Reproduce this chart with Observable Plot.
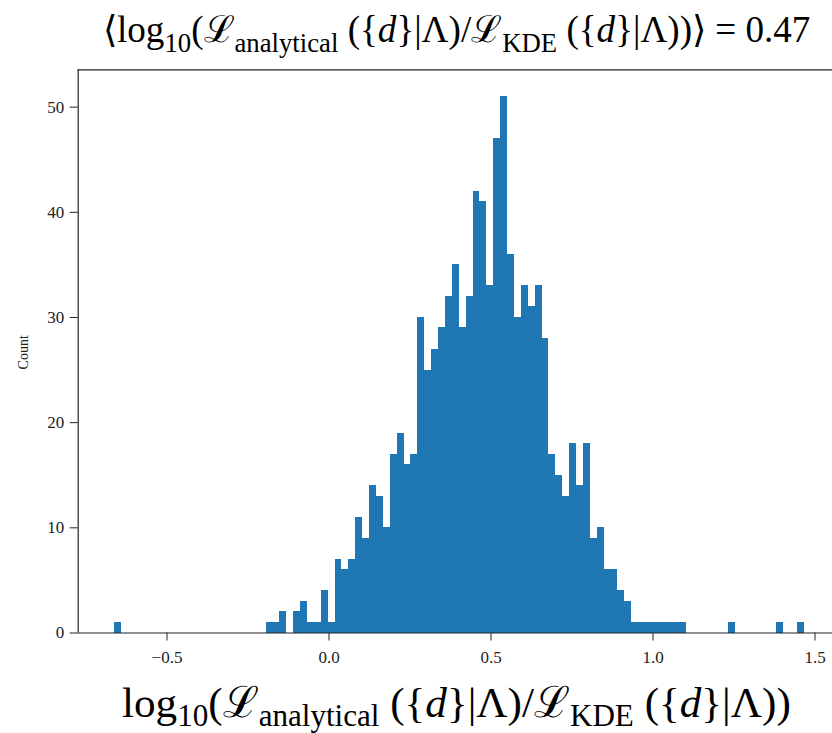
<!DOCTYPE html>
<html>
<head>
<meta charset="utf-8">
<script src="https://cdn.jsdelivr.net/npm/d3@7"></script>
<script src="https://cdn.jsdelivr.net/npm/@observablehq/plot@0.6"></script>
<style>
  html, body { margin: 0; padding: 0; background: #fff; }
  #chart { width: 832px; height: 733px; overflow: hidden; }
</style>
</head>
<body>
<div id="chart"></div>
<script>
// ---- data (100 equal-width bins) ----
const binStart = -0.663;   // left edge of the first bin
const binWidth = 0.0213;   // width of each bin
const counts = [
  1, 0, 0, 0, 0, 0, 0, 0, 0, 0,
  0, 0, 0, 0, 0, 0, 0, 0, 0, 0,
  0, 0, 1, 1, 2, 0, 2, 3, 1, 1,
  4, 1, 7, 6, 7, 11, 9, 14, 13, 10,
  17, 19, 16, 17, 30, 25, 27, 29, 32, 35,
  29, 32, 42, 41, 33, 47, 51, 36, 30, 33,
  31, 33, 28, 17, 15, 13, 18, 14, 18, 9,
  10, 6, 6, 4, 3, 1, 1, 1, 1, 1,
  1, 1, 1, 0, 0, 0, 0, 0, 0, 1,
  0, 0, 0, 0, 0, 0, 1, 0, 0, 1
];
const xTicks = [-0.5, 0.0, 0.5, 1.0, 1.5];
const yTicks = [0, 10, 20, 30, 40, 50];
const xDomain = [-0.7741, 1.554];
const yDomain = [0, 53.55];
const yLabel = "Count";
const titleSegs = [
  {t: "\u27E8log"}, {t: "10", sub: true}, {t: "("}, {t: "\u2112"}, {t: "analytical", sub: true},
  {t: " ({"}, {t: "d", it: true}, {t: "}|\u039B)/"}, {t: "\u2112"}, {t: "KDE", sub: true},
  {t: " ({"}, {t: "d", it: true}, {t: "}|\u039B))\u27E9 = 0.47"}
];
const xLabelSegs = [
  {t: "log"}, {t: "10", sub: true}, {t: "("}, {t: "\u2112"}, {t: "analytical", sub: true},
  {t: " ({"}, {t: "d", it: true}, {t: "}|\u039B)/"}, {t: "\u2112"}, {t: "KDE", sub: true},
  {t: " ({"}, {t: "d", it: true}, {t: "}|\u039B))"}
];

const bins = counts.map((c, i) => ({x1: binStart + i * binWidth, x2: binStart + (i + 1) * binWidth, y: c}));
const fmt = d => d.toFixed(1).replace("-", "\u2212");

const chart = Plot.plot({
  width: 832,
  height: 733,
  marginLeft: 77.7,
  marginRight: 0,
  marginTop: 69.3,
  marginBottom: 100.5,
  style: {fontFamily: "'Liberation Serif', serif", fontSize: "17px", color: "#222", background: "#fff"},
  x: {domain: xDomain, ticks: xTicks, tickFormat: fmt, tickSize: 8, tickPadding: 10, label: null},
  y: {domain: yDomain, ticks: yTicks, tickSize: 8, tickPadding: 6, label: null},
  marks: [
    Plot.rectY(bins.filter(d => d.y > 0), {x1: "x1", x2: "x2", y: "y", fill: "#1f77b4", inset: 0, shapeRendering: "crispEdges"}),
    Plot.ruleY([yDomain[0]], {stroke: "#222", strokeWidth: 1.2}),
    Plot.ruleY([yDomain[1]], {stroke: "#222", strokeWidth: 1.2}),
    Plot.ruleX([xDomain[0]], {stroke: "#222", strokeWidth: 1.2}),
    Plot.text([yLabel], {frameAnchor: "left", rotate: -90, dx: -55, dy: 18, fontSize: 14, fill: "#222"})
  ]
});
document.getElementById("chart").append(chart);

function richText(svg, segs, x, y, fs, target, subShift) {
  const build = (size) => {
    const t = d3.select(svg).append("text")
      .attr("x", x).attr("y", y)
      .attr("text-anchor", "start")
      .attr("font-family", "'Liberation Serif', serif")
      .attr("font-size", size)
      .attr("fill", "#000");
    let shifted = false;
    for (const s of segs) {
      const sp = t.append("tspan").text(s.t);
      if (s.sub) {
        sp.attr("font-size", size * 0.72);
        if (!shifted) { sp.attr("dy", size * subShift); shifted = true; }
      } else if (shifted) {
        sp.attr("dy", -size * subShift); shifted = false;
      }
      if (s.it) sp.attr("font-style", "italic");
    }
    return t;
  };
  let t = build(fs);
  const w = t.node().getComputedTextLength();
  t.remove();
  return build(fs * target / w);
}
const svgNode = chart.tagName.toLowerCase() === "svg" ? chart : chart.querySelector("svg");
richText(svgNode, titleSegs, 103, 42, 30, 709, 0.26);
richText(svgNode, xLabelSegs, 122, 717, 34, 668, 0.2);
</script>
</body>
</html>
